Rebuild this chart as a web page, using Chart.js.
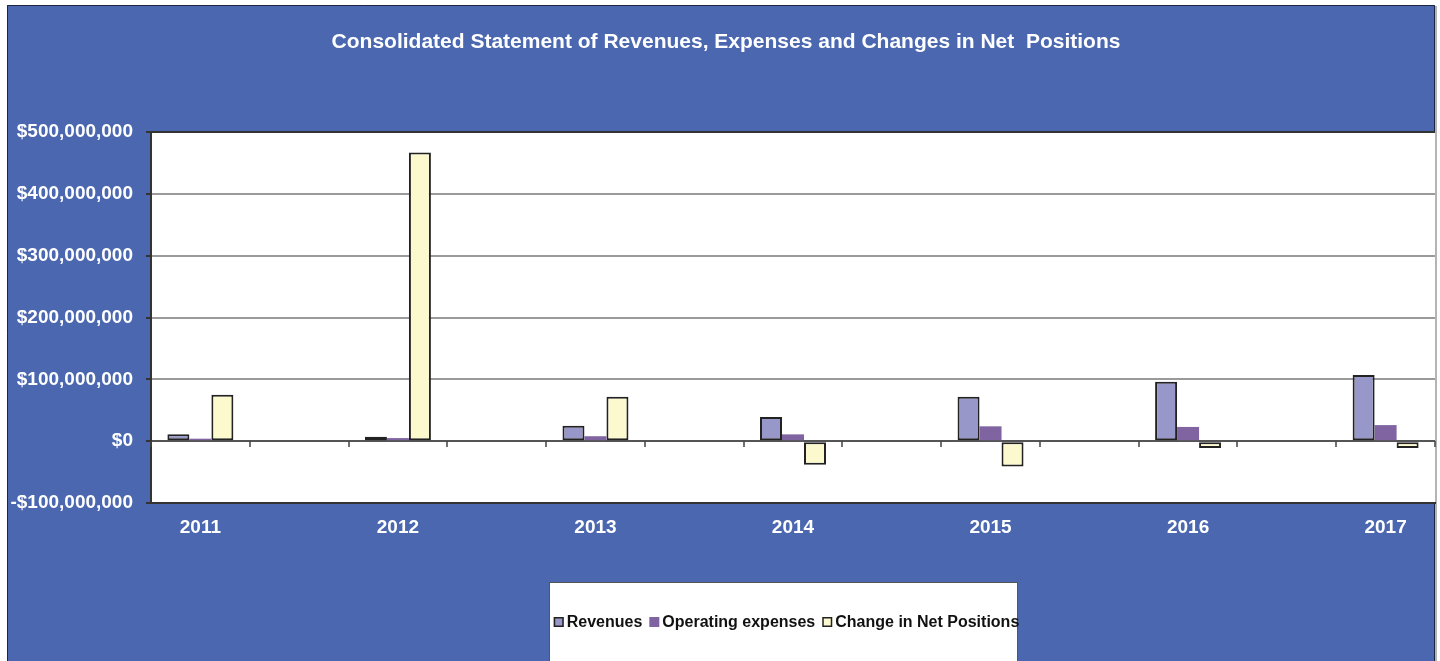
<!DOCTYPE html>
<html>
<head>
<meta charset="utf-8">
<title>Consolidated Statement of Revenues, Expenses and Changes in Net Positions</title>
<script src="https://cdn.jsdelivr.net/npm/chart.js@4/dist/chart.umd.min.js"></script>
<style>
	html, body { margin: 0; padding: 0; background: #fff; }
	canvas { display: block; }
</style>
</head>
<body>
<canvas id="graficoResultado" width="1440" height="661"></canvas>
<script>
var titulo = 'Consolidated Statement of Revenues, Expenses and Changes in Net  Positions';

var anos = ['2011', '2012', '2013', '2014', '2015', '2016', '2017'];
var revenues = [11000000, 7000000, 25000000, 39000000, 72000000, 96000000, 107000000];
var operatingExpenses = [4000000, 5000000, 8000000, 11000000, 24000000, 23000000, 26000000];
var changeInNetPositions = [75000000, 467000000, 72000000, -38000000, -41000000, -11000000, -11000000];

var ticksY = [-100000000, 0, 100000000, 200000000, 300000000, 400000000, 500000000];

var fonte = "'Liberation Sans', Arial, sans-serif";
var azul = '#4a67b0';

// each year is followed by an empty column, as in the sheet
function comEspacos(valores, vazio) {
	var saida = [];
	valores.forEach(function(v, i) {
		saida.push(v);
		if (i < valores.length - 1) saida.push(vazio);
	});
	return saida;
}

function formataDolar(v) {
	var s = '$' + Math.abs(v).toLocaleString('en-US');
	return v < 0 ? '-' + s : s;
}

var fundo = {
	id: 'fundo',
	beforeDraw: function(chart) {
		var ctx = chart.ctx, a = chart.chartArea;
		ctx.save();
		ctx.fillStyle = '#fff';
		ctx.fillRect(0, 0, chart.width, chart.height);
		ctx.fillStyle = azul;
		ctx.fillRect(7, 5, 1428, chart.height);
		ctx.strokeStyle = '#1c2440';
		ctx.lineWidth = 1;
		ctx.beginPath();
		ctx.moveTo(7.5, chart.height);
		ctx.lineTo(7.5, 5.5);
		ctx.lineTo(1434.5, 5.5);
		ctx.lineTo(1434.5, chart.height);
		ctx.stroke();
		ctx.fillStyle = '#b4b4b4';
		ctx.fillRect(1435, 6, 2, chart.height);
		ctx.fillStyle = '#fff';
		ctx.fillRect(a.left, a.top, a.right - a.left, a.bottom - a.top);

		ctx.fillStyle = '#fff';
		ctx.font = 'bold 21px ' + fonte;
		ctx.textAlign = 'center';
		ctx.textBaseline = 'middle';
		ctx.fillText(titulo, 726, 42);
		ctx.restore();
	}
};

// small category ticks hanging under the zero line
var marcasX = {
	id: 'marcasX',
	afterDraw: function(chart) {
		var ctx = chart.ctx, x = chart.scales.x, y = chart.scales.y;
		var zero = Math.round(y.getPixelForValue(0));
		var n = chart.data.labels.length;
		var passo = x.width / n;
		ctx.save();
		ctx.strokeStyle = '#444';
		ctx.lineWidth = 1.5;
		ctx.beginPath();
		for (var i = 0; i <= n; i++) {
			var px = Math.round(x.left + i * passo);
			ctx.moveTo(px, zero);
			ctx.lineTo(px, zero + 6);
		}
		ctx.stroke();
		ctx.restore();
	}
};

var legenda = {
	id: 'legenda',
	afterDraw: function(chart) {
		var ctx = chart.ctx;
		var caixa = { left: 549, top: 582, right: 1018 };
		ctx.save();
		ctx.fillStyle = '#fff';
		ctx.fillRect(caixa.left, caixa.top, caixa.right - caixa.left, chart.height - caixa.top);
		ctx.strokeStyle = '#555';
		ctx.lineWidth = 1;
		ctx.strokeRect(caixa.left + 0.5, caixa.top + 0.5, caixa.right - caixa.left - 1, chart.height);

		ctx.font = 'bold 16px ' + fonte;
		ctx.textBaseline = 'middle';
		ctx.textAlign = 'left';
		var itens = chart.data.datasets.map(function(ds) {
			return { ds: ds, w: 13 + ctx.measureText(ds.label).width };
		});
		var total = itens.reduce(function(s, it) { return s + it.w; }, 0) + 7 * (itens.length - 1);
		var x = (caixa.left + caixa.right) / 2 - total / 2 + 3;
		var yc = 622;
		itens.forEach(function(it) {
			ctx.fillStyle = it.ds.backgroundColor;
			ctx.fillRect(x, yc - 5, 10, 10);
			if (it.ds.borderWidth) {
				ctx.strokeStyle = '#222';
				ctx.lineWidth = 1.5;
				ctx.strokeRect(x + 0.75, yc - 4.25, 8.5, 8.5);
			}
			ctx.fillStyle = '#111';
			ctx.fillText(it.ds.label, x + 13, yc + 1);
			x += it.w + 7;
		});
		ctx.restore();
	}
};

Chart.defaults.font.family = fonte;

var grafico = new Chart(document.getElementById('graficoResultado').getContext('2d'), {
	type: 'bar',
	data: {
		labels: comEspacos(anos, ''),
		datasets: [{
			label: 'Revenues',
			backgroundColor: '#9797c9',
			borderColor: '#222',
			borderWidth: 2,
			borderSkipped: false,
			data: comEspacos(revenues, null)
		},
		{
			label: 'Operating expenses',
			backgroundColor: '#8064a2',
			borderWidth: 0,
			data: comEspacos(operatingExpenses, null)
		},
		{
			label: 'Change in Net Positions',
			backgroundColor: '#fdf9cf',
			borderColor: '#222',
			borderWidth: 2,
			borderSkipped: false,
			data: comEspacos(changeInNetPositions, null)
		}]
	},
	options: {
		responsive: false,
		animation: false,
		devicePixelRatio: 1,
		categoryPercentage: 0.668,
		barPercentage: 1,
		layout: { padding: { top: 132, right: 5, bottom: 0, left: 0 } },
		plugins: {
			legend: { display: false },
			title: { display: false },
			tooltip: { enabled: false }
		},
		scales: {
			x: {
				offset: true,
				grid: { display: false, drawTicks: false },
				border: { display: true, color: '#333', width: 2 },
				ticks: {
					autoSkip: false,
					maxRotation: 0,
					padding: 13,
					color: '#fff',
					font: { size: 19, weight: 'bold' }
				},
				afterFit: function(scale) { scale.height = 158; }
			},
			y: {
				min: ticksY[0],
				max: ticksY[ticksY.length - 1],
				afterBuildTicks: function(scale) {
					scale.ticks = ticksY.map(function(v) { return { value: v }; });
				},
				grid: {
					lineWidth: 2,
					tickLength: 5,
					tickColor: '#333',
					color: function(c) {
						if (c.tick && c.tick.value === 0) return '#555';
						if (c.tick && c.tick.value === 500000000) return '#333';
						return '#9a9a9a';
					}
				},
				border: { display: true, color: '#333', width: 2 },
				ticks: {
					padding: 13,
					color: '#fff',
					font: { size: 19, weight: 'bold' },
					callback: function(v) { return formataDolar(v); }
				},
				afterFit: function(scale) { scale.width = 151; }
			}
		}
	},
	plugins: [fundo, marcasX, legenda]
});
</script>
</body>
</html>
